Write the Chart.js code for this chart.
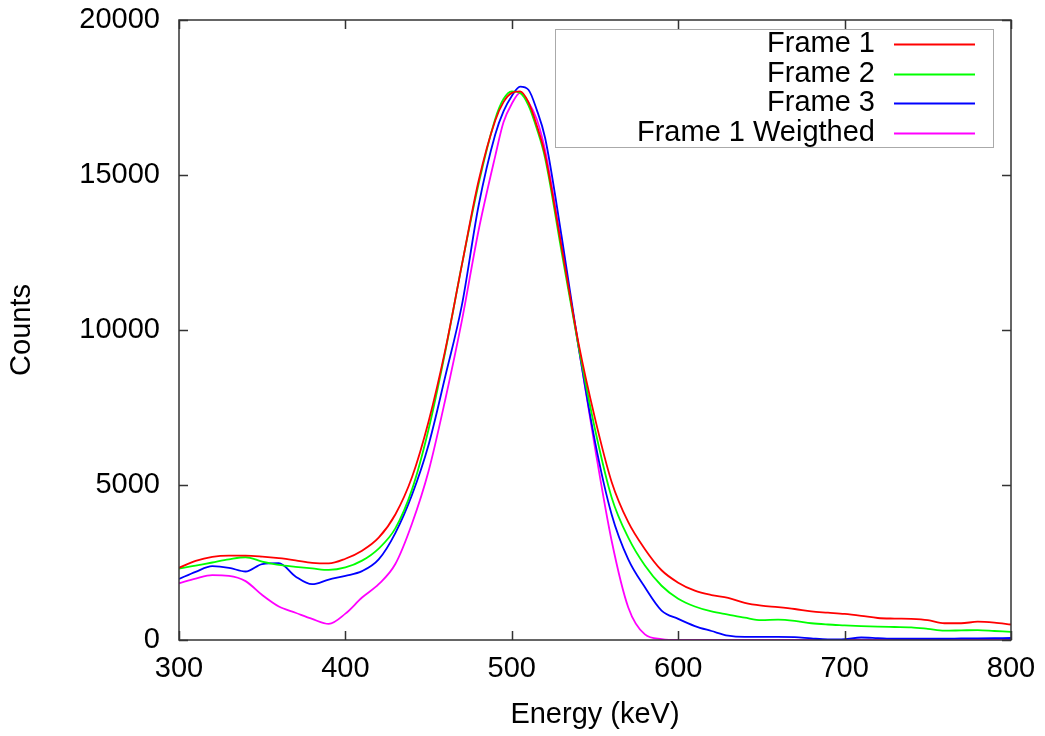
<!DOCTYPE html>
<html>
<head>
<meta charset="utf-8">
<title>Frames spectrum</title>
<script src="https://cdn.jsdelivr.net/npm/chart.js@4.4.0/dist/chart.umd.min.js"></script>
<style>
  html, body { margin: 0; padding: 0; background: #fff; }
  canvas { display: block; }
</style>
</head>
<body>
<canvas id="chart" width="1045" height="736"></canvas>
<script>
// ── data ──
const energy = [300, 310, 320, 330, 340, 350, 360, 370, 380, 390, 400, 410, 420, 430, 440, 450, 460, 470, 480, 490,
  495, 500, 505, 510, 515, 520, 530, 540, 550, 560, 570, 580, 590, 600, 610, 620, 630, 640, 650, 660,
  670, 680, 690, 700, 710, 720, 730, 740, 750, 760, 770, 780, 790, 800];

const frame1 = [2330, 2550, 2680, 2720, 2720, 2690, 2640, 2570, 2490, 2470, 2620, 2880, 3300, 4050, 5250, 7050, 9350, 12100, 14800, 16750,
  17350, 17650, 17700, 17350, 16600, 15650, 12650, 9600, 7150, 5100, 3800, 2930, 2250, 1850, 1590, 1450, 1360, 1200, 1110, 1060,
  1000, 920, 880, 840, 780, 710, 690, 680, 640, 540, 540, 590, 560, 500];

const frame2 = [2300, 2400, 2500, 2600, 2670, 2530, 2420, 2360, 2310, 2260, 2340, 2560, 2950, 3600, 4850, 6800, 9300, 12100, 14700, 16800,
  17450, 17700, 17650, 17250, 16500, 15550, 12500, 9500, 6800, 4600, 3300, 2400, 1750, 1330, 1080, 920, 820, 720, 640, 660,
  620, 540, 500, 475, 450, 430, 420, 410, 360, 300, 310, 320, 290, 260];

const frame3 = [1970, 2200, 2380, 2330, 2210, 2450, 2480, 2050, 1800, 1950, 2070, 2220, 2600, 3450, 4680, 6300, 8500, 10800, 14000, 16300,
  17050, 17550, 17850, 17750, 17100, 16200, 13000, 9500, 6400, 4050, 2600, 1700, 950, 680, 450, 290, 140, 100, 100, 100,
  90, 50, 20, 30, 80, 60, 40, 40, 40, 40, 50, 55, 60, 65];

const frame1Weighted = [1830, 1980, 2090, 2070, 1900, 1450, 1080, 880, 680, 520, 850, 1370, 1800, 2450, 3750, 5450, 7750, 10300, 13200, 15600,
  16700, 17300, 17650, 17350, 16800, 15800, 12700, 9500, 6200, 3200, 1050, 180, 30, 0, 0, 0, 0, 0, 0, 0,
  0, 0, 0, 0, 0, 0, 0, 0, 0, 0, 0, 0, 0, 0];

const seriesNames  = ['Frame 1', 'Frame 2', 'Frame 3', 'Frame 1 Weigthed'];
const seriesValues = [frame1, frame2, frame3, frame1Weighted];
const seriesColors = ['#ff0000', '#00ff00', '#0000ff', '#ff00ff'];

const xTicks = [300, 400, 500, 600, 700, 800];
const yTicks = [0, 5000, 10000, 15000, 20000];

const FONT = '"Liberation Sans", Arial, Helvetica, sans-serif';

// frame with inward ticks on all four sides + gnuplot-style key
const framePlugin = {
  id: 'frame',
  afterDraw(chart) {
    const { ctx, chartArea: a, scales } = chart;
    const tl = 9;
    ctx.save();
    ctx.strokeStyle = '#333';
    ctx.lineWidth = 1.5;
    ctx.strokeRect(a.left, a.top, a.right - a.left, a.bottom - a.top);
    ctx.beginPath();
    xTicks.forEach(v => {
      const px = Math.round(scales.x.getPixelForValue(v)) + 0.5;
      ctx.moveTo(px, a.bottom); ctx.lineTo(px, a.bottom - tl);
      ctx.moveTo(px, a.top);    ctx.lineTo(px, a.top + tl);
    });
    yTicks.forEach(v => {
      const py = Math.round(scales.y.getPixelForValue(v)) + 0.5;
      ctx.moveTo(a.left, py);  ctx.lineTo(a.left + tl, py);
      ctx.moveTo(a.right, py); ctx.lineTo(a.right - tl, py);
    });
    ctx.stroke();

    // key box
    ctx.strokeStyle = '#aaa';
    ctx.lineWidth = 1;
    ctx.strokeRect(555.5, 29.5, 438, 118);
    ctx.font = '29px ' + FONT;
    ctx.fillStyle = '#000';
    ctx.textAlign = 'right';
    ctx.textBaseline = 'middle';
    seriesNames.forEach((name, i) => {
      const y = 44 + i * 29.7;
      ctx.fillText(name, 875, y);
      ctx.strokeStyle = seriesColors[i];
      ctx.lineWidth = 1.8;
      ctx.beginPath();
      ctx.moveTo(894, Math.round(y) + 0.5);
      ctx.lineTo(975, Math.round(y) + 0.5);
      ctx.stroke();
    });
    ctx.restore();
  }
};

new Chart(document.getElementById('chart'), {
  type: 'line',
  data: {
    datasets: seriesNames.map((name, i) => ({
      label: name,
      data: energy.map((e, j) => ({ x: e, y: seriesValues[i][j] })),
      borderColor: seriesColors[i],
      borderWidth: 1.8,
      pointRadius: 0,
      fill: false,
      cubicInterpolationMode: 'monotone'
    }))
  },
  options: {
    responsive: false,
    animation: false,
    layout: { padding: { left: 0, top: 20, right: 34, bottom: 0 } },
    plugins: { legend: { display: false }, tooltip: { enabled: false } },
    scales: {
      x: {
        type: 'linear', min: 300, max: 800,
        afterBuildTicks: s => { s.ticks = xTicks.map(v => ({ value: v })); },
        afterFit: s => { s.height = 96; s.paddingLeft = 0; s.paddingRight = 0; },
        grid: { display: false, drawTicks: false },
        border: { display: false },
        ticks: { color: '#000', padding: 12, maxRotation: 0, callback: v => String(v), font: { family: FONT, size: 29 } },
        title: { display: true, text: 'Energy (keV)', color: '#000', padding: { top: 0, bottom: 4 }, font: { family: FONT, size: 29 } }
      },
      y: {
        type: 'linear', min: 0, max: 20000,
        afterBuildTicks: s => { s.ticks = yTicks.map(v => ({ value: v })); },
        afterFit: s => { s.width = 179; s.paddingTop = 0; s.paddingBottom = 0; },
        grid: { display: false, drawTicks: false },
        border: { display: false },
        ticks: { color: '#000', padding: 19, callback: v => String(v), font: { family: FONT, size: 29 } },
        title: { display: true, text: 'Counts', color: '#000', padding: { top: 5, bottom: 0 }, font: { family: FONT, size: 29 } }
      }
    }
  },
  plugins: [framePlugin]
});
</script>
</body>
</html>
